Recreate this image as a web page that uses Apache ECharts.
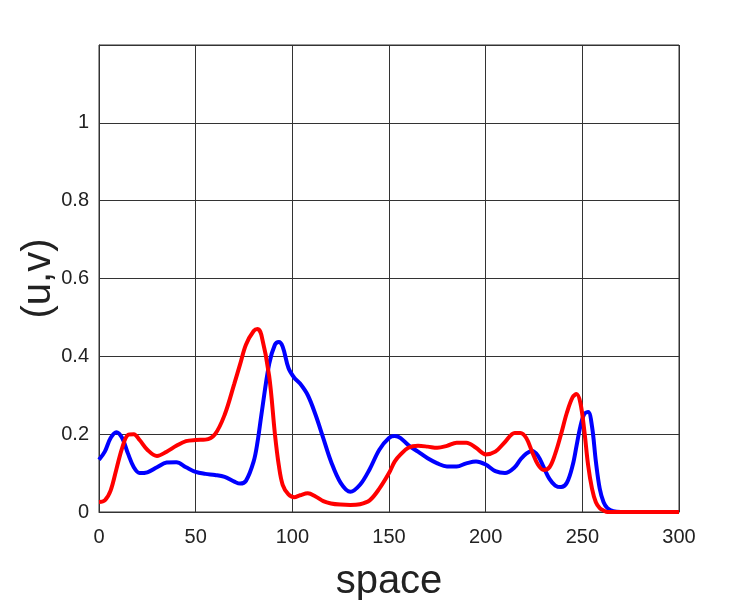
<!DOCTYPE html>
<html>
<head>
<meta charset="utf-8">
<script src="https://cdn.jsdelivr.net/npm/echarts@6/dist/echarts.min.js"></script>
<style>
  html, body { margin: 0; padding: 0; background: #fff; }
  #chart { width: 750px; height: 600px; }
</style>
</head>
<body>
<div id="chart"></div>
<script>
// space coordinate
const xs = [0, 3, 6, 9, 12, 15, 18, 21, 25, 30, 35, 40, 45, 50, 55, 60, 65, 70, 73, 76, 80, 82, 84, 88, 91, 93, 95, 98, 101, 104, 108, 112, 116, 120, 125, 130, 135, 140, 145, 150, 153, 156, 160, 165, 170, 175, 180, 185, 190, 195, 200, 205, 210, 215, 218, 221, 224, 227, 230, 233, 236, 239, 242, 245, 247, 249, 251, 253, 255, 257, 259, 261, 263, 266, 270, 280, 290, 300];
// u (blue)
const uVals = [0.134, 0.155, 0.19, 0.205, 0.19, 0.15, 0.115, 0.10, 0.102, 0.115, 0.127, 0.128, 0.115, 0.103, 0.098, 0.095, 0.09, 0.078, 0.073, 0.08, 0.13, 0.18, 0.25, 0.38, 0.43, 0.437, 0.425, 0.37, 0.345, 0.33, 0.30, 0.25, 0.19, 0.13, 0.075, 0.052, 0.07, 0.11, 0.16, 0.19, 0.195, 0.19, 0.172, 0.155, 0.138, 0.125, 0.117, 0.117, 0.125, 0.13, 0.122, 0.105, 0.10, 0.115, 0.135, 0.15, 0.157, 0.145, 0.115, 0.085, 0.068, 0.064, 0.075, 0.12, 0.17, 0.22, 0.252, 0.257, 0.22, 0.13, 0.06, 0.025, 0.01, 0.002, 0, 0, 0, 0];
// v (red)
const vVals = [0.026, 0.03, 0.055, 0.11, 0.165, 0.198, 0.2, 0.185, 0.16, 0.144, 0.155, 0.17, 0.182, 0.185, 0.186, 0.2, 0.25, 0.33, 0.38, 0.43, 0.465, 0.47, 0.455, 0.35, 0.2, 0.12, 0.07, 0.045, 0.038, 0.043, 0.048, 0.04, 0.028, 0.022, 0.019, 0.018, 0.02, 0.03, 0.06, 0.1, 0.13, 0.148, 0.165, 0.17, 0.168, 0.165, 0.17, 0.178, 0.178, 0.165, 0.148, 0.155, 0.18, 0.203, 0.203, 0.19, 0.155, 0.122, 0.108, 0.115, 0.15, 0.2, 0.255, 0.295, 0.303, 0.28, 0.21, 0.12, 0.06, 0.025, 0.01, 0.004, 0, 0, 0, 0, 0, 0];

const chart = echarts.init(document.getElementById('chart'));
const font = 'Liberation Sans, Arial, sans-serif';

const option = {
  animation: false,
  grid: {
    left: 99, right: 71, top: 45, bottom: 88,
    outerBoundsMode: 'none',
    show: true, borderColor: '#333', borderWidth: 1
  },
  xAxis: {
    type: 'value', min: 0, max: 300, interval: 50,
    name: 'space', nameLocation: 'middle', nameGap: 50,
    nameMoveOverlap: false,
    nameTextStyle: { fontSize: 40, color: '#222', fontFamily: font },
    axisLine: { show: true, lineStyle: { color: '#333' } },
    axisTick: { show: false },
    axisLabel: { fontSize: 20, color: '#222', fontFamily: font, margin: 15 },
    splitLine: { show: true, lineStyle: { color: '#333', width: 1 } }
  },
  yAxis: {
    type: 'value', min: 0, max: 1.2, interval: 0.2,
    name: '(u,v)', nameLocation: 'middle', nameGap: 40,
    nameMoveOverlap: false,
    nameTextStyle: { fontSize: 40, color: '#222', fontFamily: font },
    axisLine: { show: true, lineStyle: { color: '#333' } },
    axisTick: { show: false },
    axisLabel: {
      fontSize: 20, color: '#222', fontFamily: font, margin: 10,
      formatter: v => (v > 1.05 ? '' : String(+v.toFixed(1)))
    },
    splitLine: { show: true, lineStyle: { color: '#333', width: 1 } }
  },
  series: [
    {
      type: 'line', name: 'u', smooth: 0.35, showSymbol: false,
      lineStyle: { color: '#0000ff', width: 4 },
      data: xs.map((x, i) => [x, uVals[i]])
    },
    {
      type: 'line', name: 'v', smooth: 0.35, showSymbol: false,
      lineStyle: { color: '#ff0000', width: 4 },
      data: xs.map((x, i) => [x, vVals[i]])
    }
  ]
};

chart.setOption(option);
</script>
</body>
</html>
